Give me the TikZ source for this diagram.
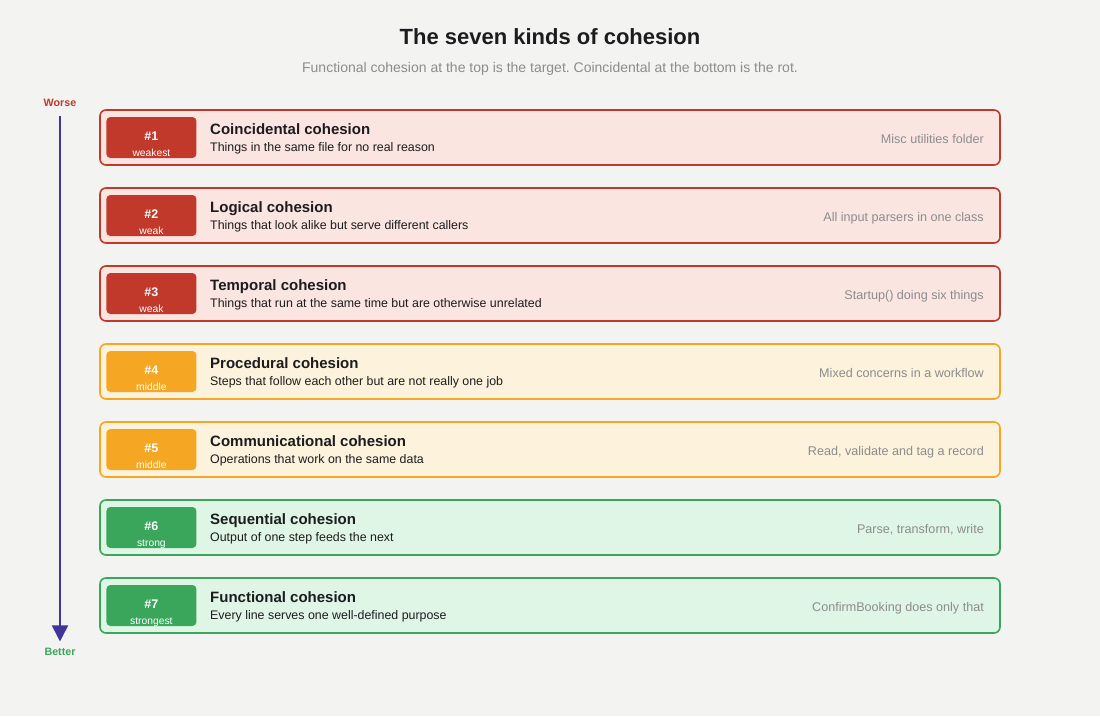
\documentclass[tikz,border=0pt]{standalone}
\usepackage{fontspec}
\setmainfont{Liberation Sans}
\usetikzlibrary{positioning,arrows.meta}
\frenchspacing

\definecolor{pagebg}{HTML}{F3F3F2}
\definecolor{weakred}{HTML}{C0392B}
\definecolor{weakredbg}{HTML}{FAE5E1}
\definecolor{midorange}{HTML}{F5A623}
\definecolor{midorangebg}{HTML}{FDF2DC}
\definecolor{strongreen}{HTML}{3AA65B}
\definecolor{strongreenbg}{HTML}{DFF5E6}
\definecolor{ink}{HTML}{1C1C1E}
\definecolor{mutedgray}{HTML}{8C8C8C}
\definecolor{axispurple}{HTML}{41359B}

\newcommand{\fs}[1]{\fontsize{#1}{#1}\selectfont}

\begin{document}
\begin{tikzpicture}
    [x=1pt, y=-1pt,
     kindbox/.style={draw=#1, fill=#1bg, line width=1.6pt, rounded corners=6pt,
       minimum width=900pt, minimum height=55pt, inner sep=0pt},
     badge/.style={fill=#1, rounded corners=4pt, minimum width=90pt,
       minimum height=41pt, inner sep=0pt},
     numtext/.style={anchor=base, inner sep=0pt, text=white, font=\fs{12.5}\bfseries},
     lvltext/.style={anchor=base, inner sep=0pt, text=white, font=\fs{10.3}},
     kindtitle/.style={anchor=base west, inner sep=0pt, text=ink, font=\fs{15}\bfseries},
     kinddesc/.style={anchor=base west, inner sep=0pt, text=ink, font=\fs{12.4}},
     kindex/.style={anchor=base east, inner sep=0pt, text=mutedgray, font=\fs{12.6}}]
    \useasboundingbox[fill=pagebg] (0,0) rectangle (1100,716);

    % heading
    \node[anchor=base, inner sep=0pt, text=ink, font=\fs{22}\bfseries] (title) at (550,44)
      {The seven kinds of cohesion};
    \node[anchor=base, inner sep=0pt, text=mutedgray, font=\fs{14}] (subtitle) at (550,72.3)
      {Functional cohesion at the top is the target. Coincidental at the bottom is the rot.};

    % worse -> better axis
    \node[anchor=base, inner sep=0pt, text=weakred, font=\fs{10.7}\bfseries] (worse) at (60,106) {Worse};
    \node[anchor=base, inner sep=0pt, text=strongreen, font=\fs{10.7}\bfseries] (better) at (60,655) {Better};
    \draw[axispurple, line width=1.8pt, -{Triangle[width=16pt,length=16pt]},
      shorten <=10pt, shorten >=6pt] (worse) -- (better);

    % the seven rows
    \foreach \i/\col/\lvl/\name/\desc/\ex in {
      1/weakred/weakest/Coincidental cohesion/Things in the same file for no real reason/Misc utilities folder,
      2/weakred/weak/Logical cohesion/Things that look alike but serve different callers/All input parsers in one class,
      3/weakred/weak/Temporal cohesion/Things that run at the same time but are otherwise unrelated/Startup() doing six things,
      4/midorange/middle/Procedural cohesion/Steps that follow each other but are not really one job/Mixed concerns in a workflow,
      5/midorange/middle/Communicational cohesion/Operations that work on the same data/{Read, validate and tag a record},
      6/strongreen/strong/Sequential cohesion/Output of one step feeds the next/{Parse, transform, write},
      7/strongreen/strongest/Functional cohesion/Every line serves one well-defined purpose/ConfirmBooking does only that}
    {
      \pgfmathsetmacro\ry{137.5+78*(\i-1)}
      \node[kindbox=\col] (box\i) at (550,\ry) {};
      \node[badge=\col, right=7pt of box\i.west] (badge\i) {};
      \node[numtext] (num\i) at ([yshift=-2.5pt]badge\i.center) {\#\i};
      \node[lvltext] (lvl\i) at ([yshift=-18.5pt]badge\i.center) {\lvl};
      \node[kindtitle] (name\i) at (210,\ry-3.2) {\name};
      \node[kinddesc] (desc\i) at (210,\ry+14) {\desc};
      \node[kindex] (ex\i) at (984,\ry+6) {\ex};
    }
  \end{tikzpicture}
\end{document}
